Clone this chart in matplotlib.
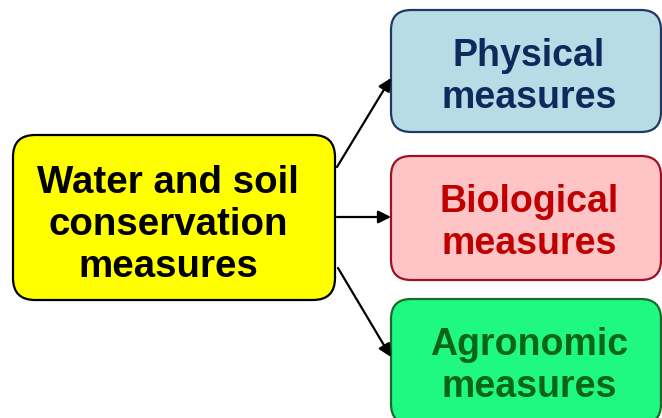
import matplotlib.pyplot as plt
from matplotlib.patches import FancyBboxPatch

# labels and colours for the diagram
root_label = "Water and soil\nconservation\nmeasures"
branch_labels = ["Physical\nmeasures", "Biological\nmeasures", "Agronomic\nmeasures"]
branch_fill = ["#b8dce6", "#ffc4c6", "#20f884"]
branch_edge = ["#1f3864", "#a01020", "#1a6a2a"]
branch_text = ["#0e2a5c", "#c00000", "#0a6614"]

plt.rcParams['font.family'] = ['Liberation Sans', 'DejaVu Sans']

fig = plt.figure(figsize=(6.62, 4.18), dpi=100)
ax = fig.add_axes([0, 0, 1, 1])
ax.set_xlim(0, 662)
ax.set_ylim(418, 0)
ax.axis('off')

# root box
ax.add_patch(FancyBboxPatch((13, 135), 322, 165,
                            boxstyle="round,pad=0,rounding_size=22",
                            fc="#ffff00", ec="black", lw=1.6))
ax.text(168, 225, root_label, ha='center', va='center', fontsize=27.7,
        fontweight='bold', color='black', linespacing=1.2)

# branch boxes (top, y-top, height)
box_x, box_w = 391, 270
box_y = [10, 156, 299]
box_h = [122, 124, 125]
tips = [(391, 78), (391, 217), (391, 357)]
start = [(337, 167), (337, 217), (338, 268)]

for i, lab in enumerate(branch_labels):
    ax.add_patch(FancyBboxPatch((box_x, box_y[i]), box_w, box_h[i],
                                boxstyle="round,pad=0,rounding_size=20",
                                fc=branch_fill[i], ec=branch_edge[i], lw=1.6))
    ax.text(box_x + box_w / 2 + 3, box_y[i] + 67, lab, ha='center', va='center',
            fontsize=27, fontweight='bold', color=branch_text[i], linespacing=1.2)
    ax.annotate("", xy=tips[i], xytext=start[i],
                arrowprops=dict(arrowstyle='-|>', color='black', lw=1.6,
                                mutation_scale=19, shrinkA=0, shrinkB=0))

fig.savefig("out.png", dpi=100)
